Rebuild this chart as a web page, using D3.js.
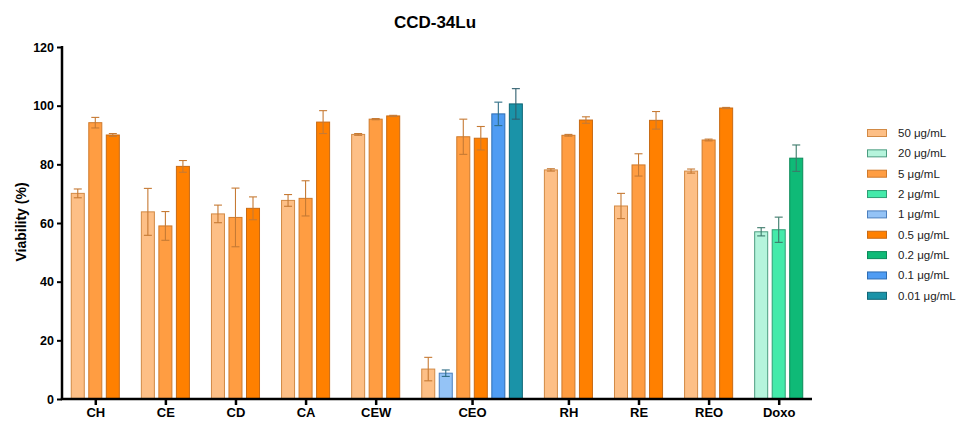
<!DOCTYPE html>
<html>
<head>
<meta charset="utf-8">
<script src="https://cdn.jsdelivr.net/npm/d3@7"></script>
<style>
  html, body { margin: 0; padding: 0; background: #fff; }
  svg { display: block; font-family: "Liberation Sans", Arial, sans-serif; }
</style>
</head>
<body>
<svg id="chart" width="964" height="423"></svg>
<script>
// ---- data ----
const categories = ["CH", "CE", "CD", "CA", "CEW", "CEO", "RH", "RE", "REO", "Doxo"];
const seriesNames = ["50 μg/mL", "20 μg/mL", "5 μg/mL", "2 μg/mL", "1 μg/mL", "0.5 μg/mL", "0.2 μg/mL", "0.1 μg/mL", "0.01 μg/mL"];
// bar order of each category (indices into seriesNames)
const groupSeries = [
  [0, 2, 5], [0, 2, 5], [0, 2, 5], [0, 2, 5], [0, 2, 5],
  [0, 4, 2, 5, 7, 8],
  [0, 2, 5], [0, 2, 5], [0, 2, 5],
  [1, 3, 6]
];
// values per series, one per category (null = not tested)
const v50  = [70.1, 63.8, 63.1, 67.7, 90.2, 10.2, 78.1, 65.8, 77.7, null];
const v20  = [null, null, null, null, null, null, null, null, null, 57.0];
const v5   = [94.2, 59.0, 61.9, 68.4, 95.4, 89.4, 89.9, 79.8, 88.3, null];
const v2   = [null, null, null, null, null, null, null, null, null, 57.7];
const v1   = [null, null, null, null, null, 8.8, null, null, null, null];
const v05  = [90.0, 79.3, 65.0, 94.4, 96.5, 88.9, 95.1, 95.0, 99.2, null];
const v02  = [null, null, null, null, null, null, null, null, null, 82.1];
const v01  = [null, null, null, null, null, 97.2, null, null, null, null];
const v001 = [null, null, null, null, null, 100.6, null, null, null, null];
// error (± SD) per series
const e50  = [1.5, 8.0, 3.0, 2.0, 0.3, 4.0, 0.4, 4.3, 0.7, null];
const e20  = [null, null, null, null, null, null, null, null, null, 1.4];
const e5   = [1.8, 4.9, 10.0, 6.0, 0.2, 6.0, 0.3, 3.8, 0.3, null];
const e2   = [null, null, null, null, null, null, null, null, null, 4.3];
const e1   = [null, null, null, null, null, 1.1, null, null, null, null];
const e05  = [0.5, 2.0, 3.9, 3.9, 0.2, 4.0, 1.1, 3.0, 0.2, null];
const e02  = [null, null, null, null, null, null, null, null, null, 4.5];
const e01  = [null, null, null, null, null, 4.0, null, null, null, null];
const e001 = [null, null, null, null, null, 5.2, null, null, null, null];
const yTicks = [0, 20, 40, 60, 80, 100, 120];
const title = "CCD-34Lu";
const yLabel = "Viability (%)";

const seriesValues = [v50, v20, v5, v2, v1, v05, v02, v01, v001];
const seriesErrors = [e50, e20, e5, e2, e1, e05, e02, e01, e001];
const fills   = ["#FDBF86", "#B5F4DC", "#FF9D42", "#44EAAA", "#94C3F6", "#FF8000", "#0FBA77", "#4F9CF3", "#1A93A8"];
const strokes = ["#D28A45", "#4C9C80", "#CF7A2C", "#2E9E74", "#4C7FBE", "#C86A14", "#0B8A59", "#2E6DB3", "#0F6676"];
const errCols = ["#C67A34", "#3C7A6A", "#C67A34", "#3C7A6A", "#2F6E86", "#C67A34", "#3C7A6A", "#2F6E86", "#2F5E6E"];

// ---- layout ----
const svg = d3.select("#chart");
const x0 = 62, x1 = 812, yTop = 47, yBot = 399;

// flatten into slots: bars of each group, with one empty slot between groups
const slots = [];
const bars = [];
categories.forEach((c, gi) => {
  if (gi > 0) slots.push("gap" + gi);
  groupSeries[gi].forEach(si => {
    const key = c + "|" + si;
    slots.push(key);
    bars.push({ key, cat: c, gi, si, v: seriesValues[si][gi], e: seriesErrors[si][gi] });
  });
});

const x = d3.scaleBand().domain(slots).range([x0, x1]).paddingInner(0.2).paddingOuter(0.5);
const y = d3.scaleLinear().domain([0, 120]).range([yBot, yTop]);

// bars
svg.append("g").selectAll("rect").data(bars).join("rect")
  .attr("x", d => x(d.key) + 0.5)
  .attr("y", d => y(d.v))
  .attr("width", x.bandwidth() - 1)
  .attr("height", d => y(0) - y(d.v))
  .attr("fill", d => fills[d.si])
  .attr("stroke", d => strokes[d.si])
  .attr("stroke-width", 1);

// error bars
const eg = svg.append("g");
bars.forEach(d => {
  const cx = x(d.key) + x.bandwidth() / 2;
  const cw = 4;
  const col = errCols[d.si];
  const g = eg.append("g").attr("stroke", col).attr("stroke-width", 1.1).attr("fill", "none");
  g.append("line").attr("x1", cx).attr("x2", cx).attr("y1", y(d.v + d.e)).attr("y2", y(d.v - d.e));
  g.append("line").attr("x1", cx - cw).attr("x2", cx + cw).attr("y1", y(d.v + d.e)).attr("y2", y(d.v + d.e));
  g.append("line").attr("x1", cx - cw).attr("x2", cx + cw).attr("y1", y(d.v - d.e)).attr("y2", y(d.v - d.e));
});

// y axis
const yAxis = svg.append("g").attr("transform", `translate(${x0},0)`)
  .call(d3.axisLeft(y).tickValues(yTicks).tickSize(5).tickPadding(3).tickSizeOuter(0));
yAxis.select(".domain").attr("stroke", "#000").attr("stroke-width", 2.5)
  .attr("d", `M0,${yTop - 1}V${yBot + 1}`);
yAxis.selectAll(".tick line").attr("stroke", "#000").attr("stroke-width", 2);
yAxis.selectAll(".tick text").attr("fill", "#000")
  .style("font-size", "12.5px").style("font-weight", "bold")
  .style("font-family", "'Liberation Sans', Arial, sans-serif");

// x axis with ticks at group centres
const groupCenter = gi => {
  const ks = groupSeries[gi].map(si => categories[gi] + "|" + si);
  return (x(ks[0]) + x(ks[ks.length - 1]) + x.bandwidth()) / 2;
};
const xc = d3.scaleOrdinal().domain(categories).range(categories.map((c, i) => groupCenter(i)));
const xAxisScale = c => xc(c);
xAxisScale.domain = () => categories;
xAxisScale.range = () => [x0, x1];
xAxisScale.copy = () => xAxisScale;
const xAxis = svg.append("g").attr("transform", `translate(0,${yBot})`)
  .call(d3.axisBottom(xAxisScale).tickSize(6).tickPadding(3).tickSizeOuter(0));
xAxis.select(".domain").attr("stroke", "#000").attr("stroke-width", 2.5)
  .attr("d", `M${x0 - 1.25},0H${x1}`);
xAxis.selectAll(".tick line").attr("stroke", "#000").attr("stroke-width", 2.5);
xAxis.selectAll(".tick text").attr("fill", "#000")
  .style("font-size", "13px").style("font-weight", "bold")
  .style("font-family", "'Liberation Sans', Arial, sans-serif");

// title
svg.append("text").attr("x", 435).attr("y", 28).attr("text-anchor", "middle")
  .style("font-size", "17px").style("font-weight", "bold").text(title);

// y label
svg.append("text").attr("transform", "translate(26,222) rotate(-90)")
  .attr("text-anchor", "middle")
  .style("font-size", "14px").style("font-weight", "bold").text(yLabel);

// legend
const lg = svg.append("g").attr("transform", "translate(867,133)");
const rowH = 20.35;
seriesNames.forEach((n, i) => {
  const r = lg.append("g").attr("transform", `translate(0,${i * rowH})`);
  r.append("rect").attr("x", 0.5).attr("y", -3.5).attr("width", 19).attr("height", 7)
    .attr("fill", fills[i]).attr("stroke", strokes[i]).attr("stroke-width", 1);
  r.append("text").attr("x", 31).attr("y", 4).style("font-size", "11.5px").attr("fill", "#222").text(n);
});
</script>
</body>
</html>
